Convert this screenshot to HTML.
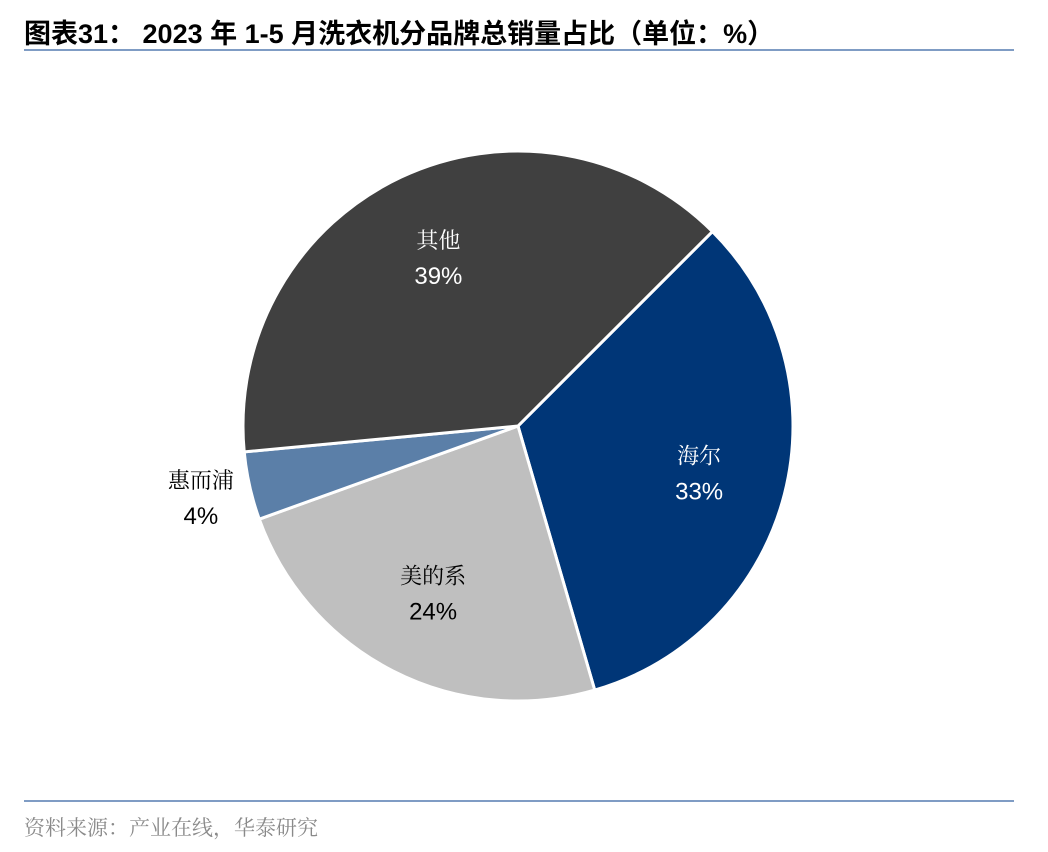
<!DOCTYPE html>
<html><head><meta charset="utf-8"><style>
body{margin:0;width:1048px;height:852px;background:#fff;position:relative;overflow:hidden;font-family:"Liberation Sans","Noto Sans CJK SC",sans-serif}
.title{position:absolute;left:24px;top:12px;font-size:27px;font-weight:bold;color:#000;white-space:nowrap;letter-spacing:0px}
.rule{position:absolute;left:24px;width:990px;height:2px;background:#7f9cc4}
.src{position:absolute;left:24px;top:812px;font-size:21px;color:#8a8a8a;font-family:"Noto Serif CJK SC","Liberation Serif",serif}
</style></head><body>
<div class="title">图表31：&nbsp;2023 年 1-5 月洗衣机分品牌总销量占比（单位：%）</div>
<div class="rule" style="top:49px"></div>
<div class="rule" style="top:800px"></div>
<div class="src">资料来源：产业在线，华泰研究</div>
<svg id="pie" width="1048" height="852" style="position:absolute;left:0;top:0"></svg>
<script>
const categories=["海尔","美的系","惠而浦","其他"];
const values=[33,24,4,39];
const colors=["#003677","#bfbfbf","#5b7fa8","#404040"];
const labelColors=["#fff","#000","#000","#fff"];
const svg=document.getElementById('pie');
const NS='http://www.w3.org/2000/svg';
const cx=518,cy=426,R=275,start=45;
const total=values.reduce((a,b)=>a+b,0);
function pt(deg,r){const a=deg*Math.PI/180;return [cx+r*Math.sin(a),cy-r*Math.cos(a)];}
let ang=start;
values.forEach((v,i)=>{
  const sweep=v/total*360;const a0=ang,a1=ang+sweep;ang=a1;
  const p0=pt(a0,R),p1=pt(a1,R);
  const p=document.createElementNS(NS,'path');
  p.setAttribute('d',`M${cx},${cy}L${p0[0]},${p0[1]}A${R},${R} 0 ${sweep>180?1:0} 1 ${p1[0]},${p1[1]}Z`);
  p.setAttribute('fill',colors[i]);p.setAttribute('stroke','#fff');p.setAttribute('stroke-width','3');
  
  
  svg.appendChild(p);
  const mid=(a0+a1)/2;const outside=sweep<20;
  const lp=outside?pt(mid,R+50):pt(mid,R*0.68);
  const t1=document.createElementNS(NS,'text');
  t1.setAttribute('x',lp[0]);t1.setAttribute('y',lp[1]-9);t1.setAttribute('text-anchor','middle');
  t1.setAttribute('font-size','22');t1.setAttribute('fill',outside?'#000':labelColors[i]);
  t1.setAttribute('font-family','"Noto Serif CJK SC",serif');
  t1.textContent=categories[i];
  
  
  svg.appendChild(t1);
  const t2=document.createElementNS(NS,'text');
  t2.setAttribute('x',lp[0]);t2.setAttribute('y',lp[1]+27);t2.setAttribute('text-anchor','middle');
  t2.setAttribute('font-size','24');t2.setAttribute('fill',outside?'#000':labelColors[i]);
  t2.setAttribute('font-family','"Liberation Sans",sans-serif');
  t2.textContent=v+'%';
  
  
  svg.appendChild(t2);
});
</script>
</body></html>
